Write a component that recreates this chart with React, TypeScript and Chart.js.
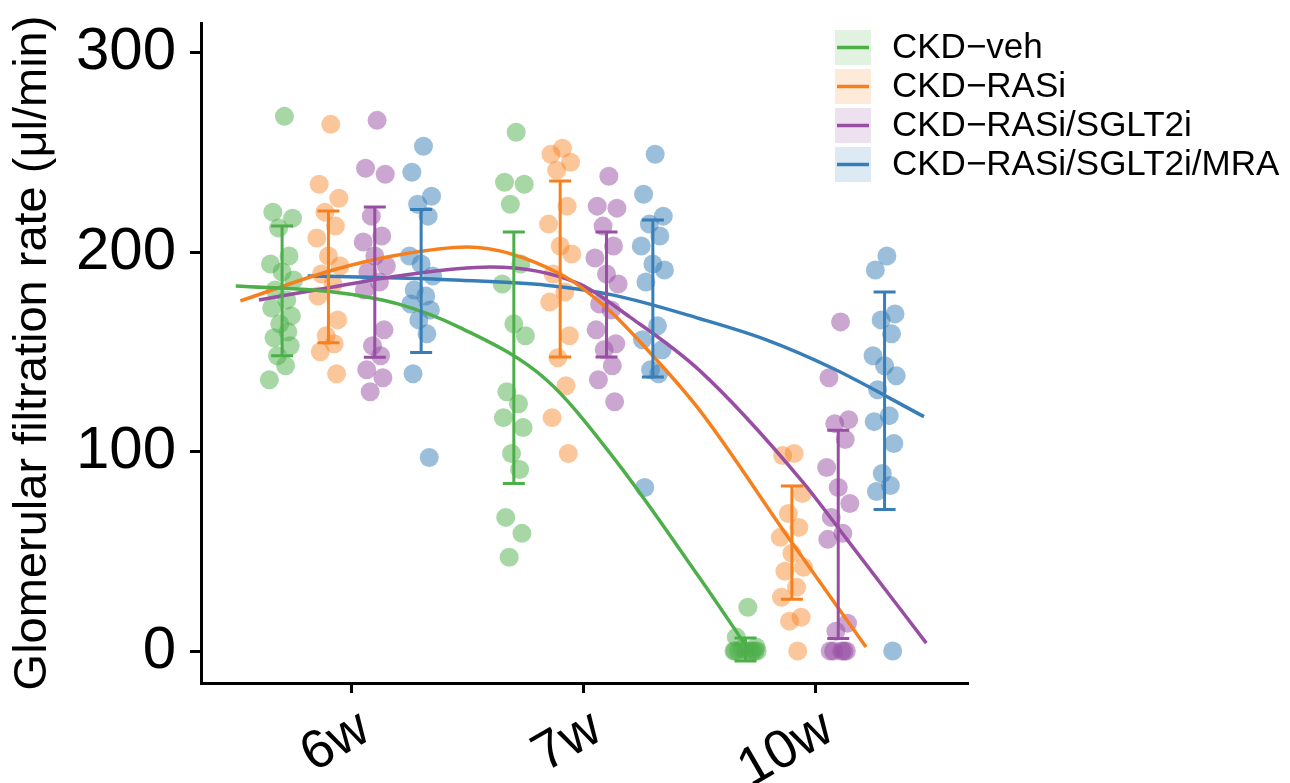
import React, { useEffect, useRef } from 'react';
import { Chart, registerables } from 'chart.js';

Chart.register(...registerables);

// ---- categories / groups ----
const CATEGORIES = ['6w', '7w', '10w'];
const GROUPS = ['CKD\u2212veh', 'CKD\u2212RASi', 'CKD\u2212RASi/SGLT2i', 'CKD\u2212RASi/SGLT2i/MRA'];
const COLORS = ['#4DAF4A', '#F7801E', '#984EA3', '#377EB8'];
const POINT_COLORS = ['rgba(77,175,74,0.5)', 'rgba(247,128,30,0.45)', 'rgba(152,78,163,0.5)', 'rgba(55,126,184,0.5)'];
const LEGEND_FILL = ['rgba(77,175,74,0.17)', 'rgba(247,128,30,0.17)', 'rgba(152,78,163,0.17)', 'rgba(55,126,184,0.17)'];
const DODGE = [-0.3, -0.1, 0.1, 0.3];
const JITTER = [0.01, -0.04, 0.045, -0.015, 0.03, -0.05, 0.0, 0.05, -0.03, 0.02, -0.045, 0.04, -0.01, 0.025, -0.035, 0.035, -0.02, 0.015, -0.055, 0.055];

// ---- observed values (μl/min) ----
const veh6 = [268, 220, 217, 212, 198, 194, 190, 186, 181, 176, 172, 168, 164, 160, 157, 153, 148, 143, 136];
const veh7 = [260, 235, 234, 224, 194, 184, 164, 158, 130, 124, 117, 112, 99, 91, 67, 59, 47];
const veh10 = [22, 7, 2, 1, 0, 0, 0, 0, 0, 0, 0, 0];
const rasi6 = [264, 234, 227, 220, 213, 207, 198, 193, 189, 184, 178, 166, 158, 154, 150, 139];
const rasi7 = [252, 249, 245, 241, 223, 214, 203, 199, 189, 180, 175, 158, 147, 133, 117, 99];
const rasi10 = [99, 98, 79, 69, 62, 57, 49, 42, 40, 32, 27, 17, 15, 0];
const sglt6 = [266, 242, 239, 218, 208, 205, 198, 193, 190, 185, 181, 161, 153, 148, 141, 137, 130];
const sglt7 = [238, 223, 222, 213, 203, 197, 189, 184, 174, 171, 161, 154, 151, 143, 136, 125];
const sglt10 = [165, 137, 116, 114, 106, 92, 82, 74, 67, 59, 56, 14, 10, 0, 0, 0, 0, 0];
const mra6 = [253, 240, 228, 224, 218, 198, 194, 188, 181, 178, 174, 171, 166, 159, 139, 97];
const mra7 = [249, 229, 218, 214, 208, 203, 194, 191, 185, 163, 156, 151, 141, 139, 82];
const mra10 = [198, 191, 169, 166, 159, 148, 143, 138, 131, 118, 115, 104, 89, 83, 80, 0];

// ---- error bars (lower / upper) per category ----
const vehLow = [148, 84, -5];
const vehHigh = [213, 210, 6.5];
const rasiLow = [154.5, 147.4, 26];
const rasiHigh = [220.6, 235.6, 82.8];
const sgltLow = [147.3, 147.4, 6.3];
const sgltHigh = [222.6, 210, 110.7];
const mraLow = [149.6, 137.4, 71];
const mraHigh = [221.3, 216, 180];

// ---- fitted trend curves (x in category units: 1 = 6w, 2 = 7w, 3 = 10w) ----
const vehCurveX = [0.5, 0.92, 1.2, 1.47, 1.84, 2.13, 2.5, 2.7];
const vehCurveY = [183, 180, 174, 162, 136, 97, 37, 3];
const rasiCurveX = [0.52, 0.92, 1.2, 1.5, 1.9, 2.1, 2.3, 2.5, 2.89, 3.22];
const rasiCurveY = [175.5, 191, 198.5, 202.5, 189, 172, 148, 121, 56, 2];
const sgltCurveX = [0.6, 0.92, 1.2, 1.6, 1.98, 2.2, 2.5, 2.94, 3.14, 3.48];
const sgltCurveY = [176, 182.5, 188, 192.5, 184.2, 167.5, 140.8, 85.7, 55.6, 4];
const mraCurveX = [0.81, 1.2, 1.47, 1.84, 2.13, 2.5, 2.79, 3.08, 3.47];
const mraCurveY = [188, 187, 185.9, 183.4, 178.4, 166.7, 156, 141.5, 117.5];

const VALUES = [
  [veh6, veh7, veh10],
  [rasi6, rasi7, rasi10],
  [sglt6, sglt7, sglt10],
  [mra6, mra7, mra10],
];
const LOWS = [vehLow, rasiLow, sgltLow, mraLow];
const HIGHS = [vehHigh, rasiHigh, sgltHigh, mraHigh];
const CURVES = [
  [vehCurveX, vehCurveY],
  [rasiCurveX, rasiCurveY],
  [sgltCurveX, sgltCurveY],
  [mraCurveX, mraCurveY],
];

const FONT = '"Liberation Sans", Arial, Helvetica, sans-serif';

const errorBarPlugin = {
  id: 'errorBars',
  afterDatasetsDraw(chart: any) {
    const { ctx, scales } = chart;
    const xs = scales.x;
    const ys = scales.y;
    ctx.save();
    ctx.lineWidth = 3;
    ctx.lineCap = 'butt';
    for (let g = 0; g < GROUPS.length; g++) {
      ctx.strokeStyle = COLORS[g];
      for (let c = 0; c < CATEGORIES.length; c++) {
        const x = xs.getPixelForValue(c + 1 + DODGE[g]);
        const y1 = ys.getPixelForValue(LOWS[g][c]);
        const y2 = ys.getPixelForValue(HIGHS[g][c]);
        ctx.beginPath();
        ctx.moveTo(x, y1);
        ctx.lineTo(x, y2);
        ctx.moveTo(x - 11, y1);
        ctx.lineTo(x + 11, y1);
        ctx.moveTo(x - 11, y2);
        ctx.lineTo(x + 11, y2);
        ctx.stroke();
      }
    }
    ctx.restore();
  },
};

const legendPlugin = {
  id: 'customLegend',
  afterDraw(chart: any) {
    const { ctx } = chart;
    ctx.save();
    const bx = 835;
    const by = 30;
    const bw = 36;
    const bh = 35;
    const step = 39;
    for (let g = 0; g < GROUPS.length; g++) {
      const y = by + g * step;
      ctx.fillStyle = LEGEND_FILL[g];
      ctx.fillRect(bx, y, bw, bh);
      ctx.strokeStyle = COLORS[g];
      ctx.lineWidth = 3.5;
      ctx.beginPath();
      ctx.moveTo(bx + 2, y + bh / 2);
      ctx.lineTo(bx + bw - 2, y + bh / 2);
      ctx.stroke();
      ctx.fillStyle = '#000';
      ctx.font = `35px ${FONT}`;
      ctx.textAlign = 'left';
      ctx.textBaseline = 'middle';
      ctx.fillText(GROUPS[g], 892, y + bh / 2 + 1);
    }
    ctx.restore();
  },
};

export default function App() {
  const canvasRef = useRef<HTMLCanvasElement | null>(null);

  useEffect(() => {
    if (!canvasRef.current) return;
    const datasets: any[] = [];
    for (let g = 0; g < GROUPS.length; g++) {
      const [cx, cy] = CURVES[g];
      datasets.push({
        type: 'line',
        label: GROUPS[g] + ' fit',
        data: cx.map((x, i) => ({ x, y: cy[i] })),
        borderColor: COLORS[g],
        borderWidth: 3.5,
        pointRadius: 0,
        fill: false,
        cubicInterpolationMode: 'monotone',
        order: 1,
      });
    }
    for (let g = 0; g < GROUPS.length; g++) {
      const pts: any[] = [];
      for (let c = 0; c < CATEGORIES.length; c++) {
        VALUES[g][c].forEach((v, i) => {
          pts.push({ x: c + 1 + DODGE[g] + JITTER[i % JITTER.length], y: v });
        });
      }
      datasets.push({
        type: 'scatter',
        label: GROUPS[g],
        data: pts,
        backgroundColor: POINT_COLORS[g],
        borderWidth: 0,
        pointRadius: 9.5,
        pointHoverRadius: 9.5,
        order: 2,
      });
    }

    const chart = new Chart(canvasRef.current, {
      type: 'scatter',
      data: { datasets },
      options: {
        animation: false,
        responsive: true,
        maintainAspectRatio: false,
        layout: { padding: { left: 5, top: 23, right: 322, bottom: 0 } },
        plugins: { legend: { display: false }, tooltip: { enabled: false } },
        scales: {
          x: {
            type: 'linear',
            min: 0.35,
            max: 3.66,
            afterBuildTicks: (scale: any) => {
              scale.ticks = CATEGORIES.map((_, i) => ({ value: i + 1 }));
            },
            afterFit: (scale: any) => {
              scale.height = 100;
              scale.paddingLeft = 0;
              scale.paddingRight = 0;
            },
            grid: {
              display: true,
              drawOnChartArea: false,
              drawTicks: true,
              tickLength: 10,
              tickWidth: 3,
              tickColor: '#000',
            },
            border: { display: true, color: '#000', width: 3 },
            ticks: {
              autoSkip: false,
              minRotation: 30,
              maxRotation: 30,
              color: '#000',
              font: { family: FONT, size: 54 },
              padding: 4,
              labelOffset: 14,
              callback: (v: any) => CATEGORIES[Math.round(v) - 1] ?? '',
            },
          },
          y: {
            type: 'linear',
            min: -16,
            max: 314.8,
            afterBuildTicks: (scale: any) => {
              scale.ticks = [0, 100, 200, 300].map((v) => ({ value: v }));
            },
            afterFit: (scale: any) => {
              scale.width = 196;
              scale.paddingTop = 0;
              scale.paddingBottom = 0;
            },
            grid: {
              display: true,
              drawOnChartArea: false,
              drawTicks: true,
              tickLength: 11,
              tickWidth: 3,
              tickColor: '#000',
            },
            border: { display: true, color: '#000', width: 3 },
            ticks: {
              color: '#000',
              font: { family: FONT, size: 60 },
              padding: 14,
            },
            title: {
              display: true,
              text: 'Glomerular filtration rate (μl/min)',
              color: '#000',
              font: { family: FONT, size: 47 },
              padding: { top: 0, bottom: 0 },
            },
          },
        },
      },
      plugins: [errorBarPlugin, legendPlugin],
    } as any);
    return () => chart.destroy();
  }, []);

  return (
    <div style={{ position: 'fixed', left: 0, top: 0, width: 1290, height: 783, background: '#fff' }}>
      <canvas ref={canvasRef} />
    </div>
  );
}
